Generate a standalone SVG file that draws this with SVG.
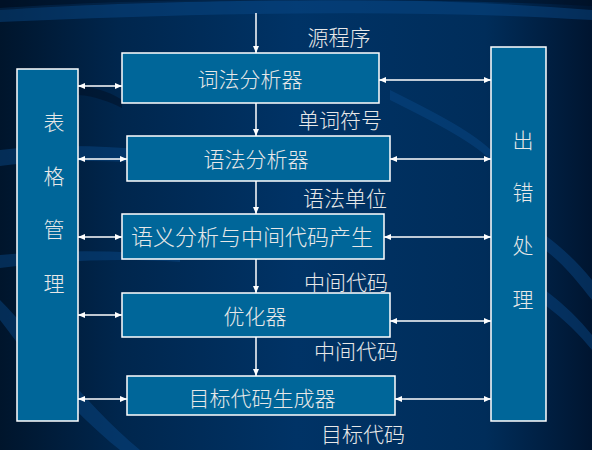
<svg xmlns="http://www.w3.org/2000/svg" width="592" height="450" viewBox="0 0 592 450">
<defs>
<linearGradient id="bg" x1="0" y1="0" x2="1" y2="0">
<stop offset="0" stop-color="#00152c"/>
<stop offset="0.2" stop-color="#00264d"/>
<stop offset="0.5" stop-color="#003366"/>
<stop offset="0.82" stop-color="#002d5a"/>
<stop offset="1" stop-color="#001530"/>
</linearGradient>
<marker id="ah" viewBox="0 0 7 6" refX="7" refY="3" markerWidth="7" markerHeight="6" markerUnits="userSpaceOnUse" orient="auto-start-reverse">
<path d="M0,0 L7,3 L0,6 z" fill="#ffffff"/>
</marker>
<style>
.box{fill:#006699;stroke:#ffffff;stroke-width:1.5}
.t{font-family:"Noto Sans CJK SC","Noto Sans CJK JP",sans-serif;font-weight:300;fill:#e8e8e8;font-size:21px;text-anchor:middle}
.c line{stroke:#ffffff;stroke-width:1.5}
.d{marker-start:url(#ah);marker-end:url(#ah)}
.s{marker-end:url(#ah)}
</style>
</defs>
<rect width="592" height="450" fill="url(#bg)"/>
<g opacity="0.45" fill="#0a4a8a">
<path d="M0,8 C150,-2 400,-6 592,10 L592,20 C400,8 180,14 0,22 z"/>
<path d="M0,150 C80,140 180,150 300,170 L300,178 C180,162 80,156 0,166 z"/>
<path d="M0,255 C60,250 120,250 180,256 L180,262 C120,258 60,260 0,268 z"/>
<path d="M0,300 C40,340 80,400 140,450 L120,450 C70,410 30,360 0,320 z"/>
<path d="M545,235 C565,250 580,265 592,280 L592,300 C580,285 565,265 545,250 z"/>
<path d="M545,290 C565,305 580,320 592,335 L592,350 C580,335 565,320 545,305 z"/>
<path d="M390,90 C430,110 470,130 491,150 L491,160 C470,140 430,120 390,100 z"/>
</g>
<g opacity="0.45" fill="#000d1f">
<path d="M0,0 L592,0 L592,6 C400,-4 150,0 0,10 z"/>
<path d="M78,85 C100,88 115,95 122,100 L122,108 C110,102 95,96 78,95 z"/>
</g>
<g id="table">
<rect class="box" x="17" y="69" width="61" height="352"/>
<text class="t" x="54" y="130">表</text>
<text class="t" x="54" y="184">格</text>
<text class="t" x="54" y="237">管</text>
<text class="t" x="54" y="291">理</text>
</g>
<g id="error">
<rect class="box" x="491" y="47" width="55" height="374"/>
<text class="t" x="523" y="148">出</text>
<text class="t" x="523" y="200">错</text>
<text class="t" x="523" y="253">处</text>
<text class="t" x="523" y="307">理</text>
</g>
<g id="lexer">
<rect class="box" x="122" y="53" width="257" height="50"/>
<text class="t" x="250" y="87">词法分析器</text>
</g>
<g id="parser">
<rect class="box" x="127" y="136" width="263" height="45"/>
<text class="t" x="256" y="167">语法分析器</text>
</g>
<g id="semantic">
<rect class="box" x="122" y="214" width="262" height="45"/>
<text class="t" x="252" y="245" style="font-size:22px">语义分析与中间代码产生</text>
</g>
<g id="optimizer">
<rect class="box" x="122" y="293" width="268" height="44"/>
<text class="t" x="255" y="324">优化器</text>
</g>
<g id="codegen">
<rect class="box" x="127" y="376" width="268" height="39"/>
<text class="t" x="262" y="406">目标代码生成器</text>
</g>
<g id="connectors" class="c">
<line class="s" x1="256" y1="13" x2="256" y2="53"/>
<line class="s" x1="256" y1="103" x2="256" y2="136"/>
<line class="s" x1="256" y1="181" x2="256" y2="214"/>
<line class="s" x1="256" y1="259" x2="256" y2="293"/>
<line class="s" x1="256" y1="337" x2="256" y2="376"/>
<line class="d" x1="78" y1="86" x2="122" y2="86"/>
<line class="d" x1="78" y1="159" x2="127" y2="159"/>
<line class="d" x1="78" y1="237" x2="122" y2="237"/>
<line class="d" x1="78" y1="315" x2="122" y2="315"/>
<line class="d" x1="78" y1="399" x2="127" y2="399"/>
<line class="d" x1="379" y1="80" x2="491" y2="80"/>
<line class="d" x1="390" y1="159" x2="491" y2="159"/>
<line class="d" x1="384" y1="237" x2="491" y2="237"/>
<line class="d" x1="390" y1="321" x2="491" y2="321"/>
<line class="d" x1="395" y1="399" x2="491" y2="399"/>
</g>
<g id="labels">
<text class="t" x="339" y="45">源程序</text>
<text class="t" x="340" y="128">单词符号</text>
<text class="t" x="345" y="206">语法单位</text>
<text class="t" x="346" y="290">中间代码</text>
<text class="t" x="356" y="359">中间代码</text>
<text class="t" x="363" y="442">目标代码</text>
</g>
</svg>
